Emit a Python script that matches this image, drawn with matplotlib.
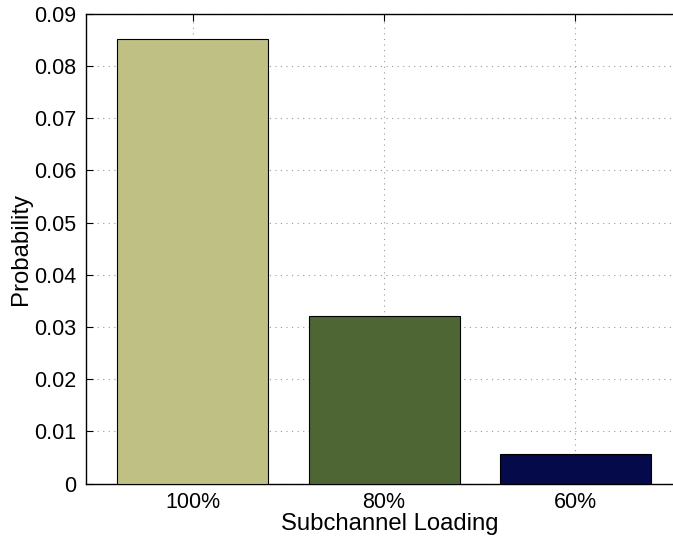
import matplotlib
matplotlib.use("Agg")
import matplotlib.pyplot as plt

categories = ["100%", "80%", "60%"]
positions = [1, 2, 3]
probabilities = [0.0853, 0.0321, 0.00565]
bar_colors = ["#BFC184", "#4E6634", "#050A4A"]
yticks = [0, 0.01, 0.02, 0.03, 0.04, 0.05, 0.06, 0.07, 0.08, 0.09]
ytick_labels = ["0", "0.01", "0.02", "0.03", "0.04", "0.05", "0.06", "0.07", "0.08", "0.09"]

plt.rcParams['font.family'] = ['Liberation Sans', 'DejaVu Sans']

fig = plt.figure(figsize=(6.73, 5.38), dpi=100)
ax = fig.add_axes([0.1282, 0.1013, 0.9027, 0.8727])

ax.bar(positions, probabilities, width=0.79, color=bar_colors,
       edgecolor="black", linewidth=0.8, zorder=3)

ax.set_xlim(0.442, 3.62)
ax.set_ylim(0, 0.09)
ax.set_xticks(positions)
ax.set_xticklabels(categories)
ax.set_yticks(yticks)
ax.set_yticklabels(ytick_labels)

ax.set_axisbelow(True)
ax.grid(True, linestyle=(0, (1, 4)), color="#999999", linewidth=0.8)

ax.tick_params(direction="in", length=5, width=0.8, labelsize=15.5,
               top=True, right=True, colors="black")
ax.tick_params(axis="y", pad=7)
ax.tick_params(axis="x", pad=6)
for s in ax.spines.values():
    s.set_linewidth(1.0)
    s.set_color("black")

ax.set_xlabel("Subchannel Loading", fontsize=17.2, labelpad=0)
ax.set_ylabel("Probability", fontsize=17.2, labelpad=2)

fig.savefig("out.png", dpi=100)
